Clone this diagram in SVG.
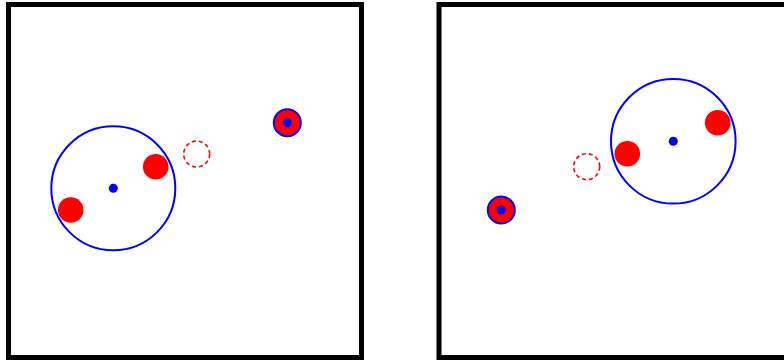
<svg xmlns="http://www.w3.org/2000/svg" width="784" height="361" viewBox="0 0 784 361">
<style>
.frame{fill:#fff;stroke:#000;stroke-width:5}
.big{fill:none;stroke:#00f;stroke-width:2}
.dot{fill:#00f}
.red{fill:#f00}
.ghost{fill:none;stroke:#f00;stroke-width:1.6;stroke-dasharray:4,3}
.target{fill:#f00;stroke:#00f;stroke-width:2}
</style>
<rect width="784" height="361" fill="#fff"/>
<g id="left-panel">
<rect class="frame" x="8.5" y="4.5" width="353" height="353"/>
<g id="left-big"><circle class="big" cx="113.3" cy="188.3" r="62"/><circle class="dot" cx="113.3" cy="188.3" r="4.5"/></g>
<g id="left-red1"><circle class="red" cx="70.7" cy="210" r="12.8"/></g>
<g id="left-red2"><circle class="red" cx="155.7" cy="166.7" r="12.8"/></g>
<g id="left-ghost"><circle class="ghost" cx="196.7" cy="154" r="13"/></g>
<g id="left-target"><circle class="target" cx="287.3" cy="122.7" r="13.5"/><circle class="dot" cx="287.3" cy="122.7" r="4.5"/></g>
</g>
<g id="right-panel">
<rect class="frame" x="439" y="4.5" width="353" height="353"/>
<g id="right-big"><circle class="big" cx="673.3" cy="141.3" r="62.3"/><circle class="dot" cx="673.3" cy="141.3" r="4.5"/></g>
<g id="right-red1"><circle class="red" cx="627.3" cy="153.7" r="12.8"/></g>
<g id="right-red2"><circle class="red" cx="717.7" cy="122.7" r="12.8"/></g>
<g id="right-ghost"><circle class="ghost" cx="586.7" cy="166.7" r="13"/></g>
<g id="right-target"><circle class="target" cx="501.3" cy="210" r="13.5"/><circle class="dot" cx="501.3" cy="210" r="4.5"/></g>
</g>
<g id="connectors"/>
</svg>
